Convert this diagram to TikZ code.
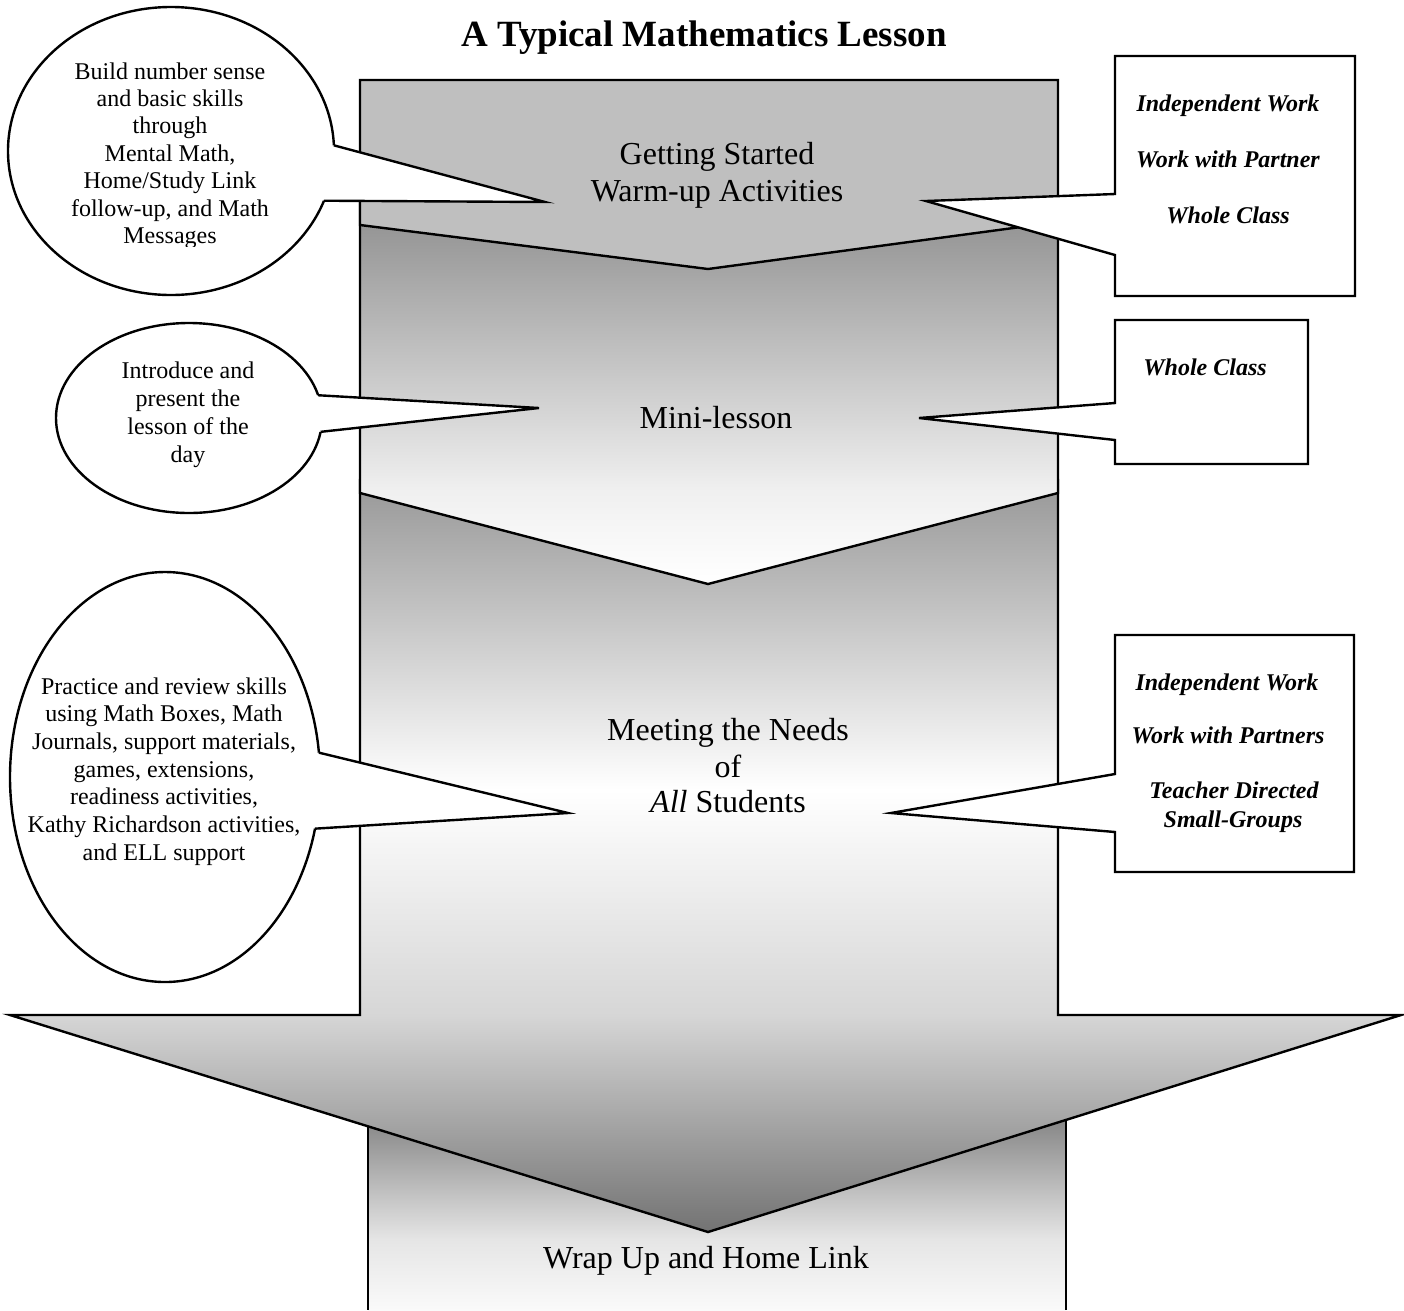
\documentclass[tikz,border=0pt]{standalone}
\usepackage{fontspec}
\setmainfont{Liberation Serif}
\usetikzlibrary{shapes.geometric}
\definecolor{cA}{gray}{0.75}
\definecolor{gB1}{gray}{0.94}
\definecolor{gB2}{gray}{0.60}
\definecolor{gB3}{gray}{0.56}
\definecolor{gC0}{gray}{0.45}
\definecolor{gC1}{gray}{0.84}
\definecolor{gC3}{gray}{0.61}
\definecolor{gC4}{gray}{0.60}
\definecolor{gD0}{gray}{0.98}
\definecolor{gD1}{gray}{0.90}
\definecolor{gD2}{gray}{0.78}
\definecolor{gD3}{gray}{0.56}
\definecolor{gD4}{gray}{0.50}
\pgfdeclareverticalshading{shB}{100bp}{color(0bp)=(white); color(25bp)=(white); color(37.2bp)=(gB1); color(70.4bp)=(gB2); color(75bp)=(gB3); color(100bp)=(gB3)}
\pgfdeclareverticalshading{shC}{100bp}{color(0bp)=(gC0); color(25bp)=(gC0); color(39.45bp)=(gC1); color(54.4bp)=(white); color(74.15bp)=(gC3); color(75bp)=(gC4); color(100bp)=(gC4)}
\pgfdeclareverticalshading{shD}{100bp}{color(0bp)=(gD0); color(25bp)=(gD0); color(42.5bp)=(gD1); color(52.5bp)=(gD2); color(70bp)=(gD3); color(75bp)=(gD4); color(100bp)=(gD4)}
\begin{document}
\begin{tikzpicture}[x=1pt,y=-1pt,line join=miter,
  ttl/.style={font=\fontsize{37}{40}\selectfont\bfseries, anchor=base, inner sep=0pt},
  blk/.style={font=\fontsize{32}{36}\selectfont, anchor=base, inner sep=0pt},
  bub/.style={font=\fontsize{24}{27}\selectfont, anchor=base, inner sep=0pt},
  rtx/.style={font=\fontsize{24}{27}\selectfont\bfseries\itshape, anchor=base, inner sep=0pt},
  outl/.style={draw=black, line width=2.4pt},
  bubble/.style={ellipse, draw=black, fill=white, line width=2.4pt, inner sep=0pt, outer sep=0pt},
  tail/.style={draw=black, line width=2.4pt}
]
\useasboundingbox (0,0) rectangle (1404,1310);

% Wrap up block
\fill[shading=shD] (368,1110) rectangle (1066,1310);
\draw[line width=1.3pt] (368,1110) -- (368,1310) (1066,1110) -- (1066,1310);

% Meeting the needs block with big arrow
\path[outl, shading=shC] (360,480) -- (360,1015) -- (10,1015) -- (708,1232) -- (1401,1015) -- (1058,1015) -- (1058,480) -- cycle;

% Mini-lesson block
\path[outl, shading=shB] (360,200) -- (1058,200) -- (1058,493) -- (708,584) -- (360,493) -- cycle;

% Getting started block
\path[outl, fill=cA] (360,80) -- (1058,80) -- (1058,222) -- (708,269) -- (360,225) -- cycle;

% Title
\node[ttl] (title) at (704,46) {A Typical Mathematics Lesson};

% Block texts
\node[blk] (ga) at (717,164) {Getting Started};
\node[blk] (gb) at (717,201) {Warm-up Activities};
\node[blk] (ml) at (716,428) {Mini-lesson};
\node[blk] (na) at (728,740) {Meeting the Needs};
\node[blk] (nb) at (728,777) {of};
\node[blk] (nc) at (728,812) {\textit{All} Students};
\node[blk] (wu) at (706,1268) {Wrap Up and Home Link};

% Left callout 1
\node[bubble, minimum width=326pt, minimum height=288pt] (e1) at (171,151) {};
\coordinate (t1) at (545,202);
\fill[white] (e1.2) -- (t1) -- (e1.-18) -- (e1.center) -- cycle;
\draw[tail] (e1.2) -- (t1) -- (e1.-18);
\node[bub] (e1a) at (170,79) {Build number sense};
\node[bub] (e1b) at (170,106.4) {and basic skills};
\node[bub] (e1c) at (170,133.8) {through};
\node[bub] (e1d) at (170,161.2) {Mental Math,};
\node[bub] (e1e) at (170,188.6) {Home/Study Link};
\node[bub] (e1f) at (170,216) {follow-up, and Math};
\begin{scope}
\clip (0,0) rectangle (400,246);
\node[bub] (e1g) at (170,243.4) {Messages};
\end{scope}

% Left callout 2
\node[bubble, minimum width=266pt, minimum height=190pt] (e2) at (189,418) {};
\coordinate (t2) at (539,408);
\fill[white] (e2.10) -- (t2) -- (e2.-6) -- (e2.center) -- cycle;
\draw[tail] (e2.10) -- (t2) -- (e2.-6);
\node[bub] (e2a) at (188,378) {Introduce and};
\node[bub] (e2b) at (188,406) {present the};
\node[bub] (e2c) at (188,434) {lesson of the};
\node[bub] (e2d) at (188,462) {day};

% Left callout 3
\node[bubble, minimum width=310pt, minimum height=410pt] (e3) at (165,777) {};
\coordinate (t3) at (568,813);
\fill[white] (e3.9) -- (t3) -- (e3.-19) -- (e3.center) -- cycle;
\draw[tail] (e3.9) -- (t3) -- (e3.-19);
\node[bub] (e3a) at (164,694) {Practice and review skills};
\node[bub] (e3b) at (164,721.7) {using Math Boxes, Math};
\node[bub] (e3c) at (164,749.4) {Journals, support materials,};
\node[bub] (e3d) at (164,777.1) {games, extensions,};
\node[bub] (e3e) at (164,804.8) {readiness activities,};
\node[bub] (e3f) at (164,832.5) {Kathy Richardson activities,};
\node[bub] (e3g) at (164,860.2) {and ELL support};

% Right callout 1
\path[outl, fill=white] (1115,56) -- (1355,56) -- (1355,296) -- (1115,296) -- (1115,255) -- (926,201) -- (1115,194) -- cycle;
\node[rtx] (r1a) at (1228,111) {Independent Work};
\node[rtx] (r1b) at (1228,167) {Work with Partner};
\node[rtx] (r1c) at (1228,223) {Whole Class};

% Right callout 2
\path[outl, fill=white] (1115,320) -- (1308,320) -- (1308,464) -- (1115,464) -- (1115,440) -- (919,418) -- (1115,403) -- cycle;
\node[rtx] (r2a) at (1205,375) {Whole Class};

% Right callout 3
\path[outl, fill=white] (1115,635) -- (1354,635) -- (1354,872) -- (1115,872) -- (1115,832) -- (891,813) -- (1115,774) -- cycle;
\node[rtx] (r3a) at (1227,690) {Independent Work};
\node[rtx] (r3b) at (1228,743) {Work with Partners};
\node[rtx] (r3c) at (1234,798) {Teacher Directed};
\node[rtx] (r3d) at (1233,827) {Small-Groups};
\end{tikzpicture}
\end{document}
